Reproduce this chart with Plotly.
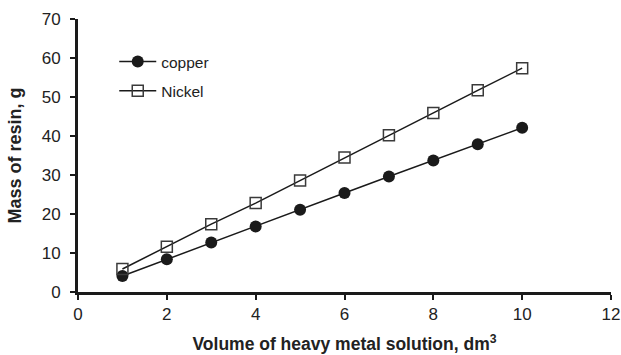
import plotly.graph_objects as go

volume = [1, 2, 3, 4, 5, 6, 7, 8, 9, 10]
copper = [4.1, 8.4, 12.7, 16.8, 21.1, 25.4, 29.6, 33.7, 37.9, 42.1]
nickel = [5.9, 11.6, 17.4, 22.8, 28.6, 34.5, 40.2, 45.9, 51.7, 57.4]

FONT = "Liberation Sans, Arial, sans-serif"

fig = go.Figure()
fig.add_trace(go.Scatter(
    x=volume, y=copper, name="copper", mode="lines+markers",
    line=dict(color="#1a1a1a", width=1.5),
    marker=dict(symbol="circle", size=12, color="#1a1a1a"),
    legendgroup="a",
))
fig.add_trace(go.Scatter(
    x=volume, y=nickel, name="Nickel", mode="lines+markers",
    line=dict(color="#1a1a1a", width=1.5),
    marker=dict(symbol="square-open", size=11, color="#3a3a3a", line=dict(width=1.5)),
    legendgroup="b",
))

axis_common = dict(
    showline=True, linecolor="#1a1a1a", linewidth=3,
    ticks="outside", ticklen=5, tickwidth=2, tickcolor="#1a1a1a",
    showgrid=False, zeroline=False, automargin=False,
    tickfont=dict(family=FONT, size=17, color="#222"),
)

fig.update_layout(
    width=621, height=355,
    margin=dict(l=78, r=10, t=19, b=63),
    paper_bgcolor="white", plot_bgcolor="white",
    xaxis=dict(range=[0, 12], dtick=2,
               title=dict(text="<b>Volume of heavy metal solution, dm<sup>3</sup></b>",
                          font=dict(family=FONT, size=17.5, color="#222"), standoff=15),
               ticklabelstandoff=0,
               **axis_common),
    yaxis=dict(range=[0, 70], dtick=10,
               title=dict(text="<b>Mass of resin, g</b>",
                          font=dict(family=FONT, size=18, color="#222"), standoff=16),
               ticklabelstandoff=6,
               **axis_common),
    legend=dict(x=0.068, y=0.905, xanchor="left", yanchor="top",
                font=dict(family=FONT, size=15.5, color="#222"),
                bgcolor="rgba(0,0,0,0)", tracegroupgap=6, itemwidth=37),
    showlegend=True,
)

fig.write_html("out.html")
